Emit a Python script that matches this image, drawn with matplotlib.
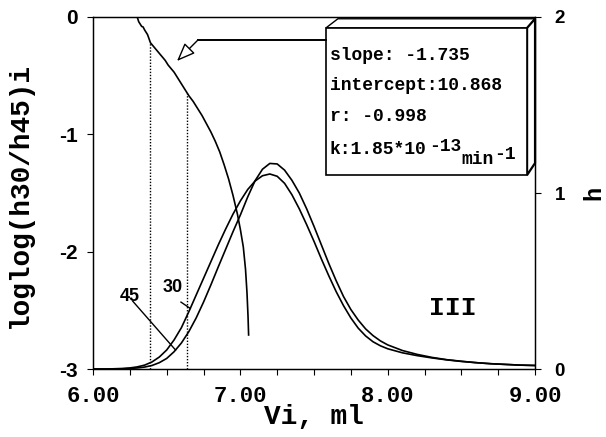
import numpy as np
import matplotlib
matplotlib.use("Agg")
import matplotlib.pyplot as plt
from matplotlib.patches import Rectangle, Polygon

plt.rcParams['axes.unicode_minus'] = False

# loglog(h30/h45)i against elution volume
lv = [6.300, 6.305, 6.31, 6.32, 6.33, 6.34, 6.35, 6.37, 6.39, 6.41, 6.43, 6.45,
      6.47, 6.49, 6.51, 6.53, 6.55, 6.57, 6.59, 6.61, 6.63, 6.65, 6.68, 6.71,
      6.74, 6.77, 6.80, 6.83, 6.86, 6.89, 6.92, 6.95, 6.98, 7.00, 7.02, 7.035,
      7.045, 7.052, 7.056]
ll = [0.00, -0.02, -0.04, -0.06, -0.08, -0.085, -0.11, -0.15, -0.22, -0.25,
      -0.28, -0.31, -0.34, -0.37, -0.41, -0.44, -0.47, -0.51, -0.55, -0.59,
      -0.63, -0.67, -0.72, -0.78, -0.84, -0.91, -0.98, -1.06, -1.15, -1.26,
      -1.38, -1.52, -1.68, -1.81, -1.96, -2.15, -2.35, -2.55, -2.71]

# chromatograms h(Vi) at 30 and 45
vi = [6.00, 6.10, 6.20, 6.25, 6.30, 6.35, 6.40, 6.45, 6.50, 6.55, 6.60, 6.65,
      6.70, 6.75, 6.80, 6.85, 6.90, 6.95, 7.00, 7.05, 7.10, 7.15, 7.20, 7.25,
      7.30, 7.35, 7.40, 7.45, 7.50, 7.55, 7.60, 7.65, 7.70, 7.75, 7.80, 7.85,
      7.90, 7.95, 8.00, 8.10, 8.20, 8.30, 8.40, 8.50, 8.60, 8.70, 8.80, 8.90,
      9.00]
h30 = [0.000, 0.000, 0.003, 0.006, 0.012, 0.022, 0.040, 0.068, 0.108, 0.165,
       0.235, 0.325, 0.420, 0.515, 0.610, 0.705, 0.795, 0.880, 0.955, 1.020,
       1.068, 1.098, 1.108, 1.095, 1.055, 0.990, 0.910, 0.820, 0.725, 0.625,
       0.530, 0.440, 0.360, 0.290, 0.232, 0.188, 0.155, 0.132, 0.115, 0.092,
       0.076, 0.063, 0.052, 0.043, 0.036, 0.030, 0.026, 0.022, 0.020]
h45 = [0.000, 0.000, 0.001, 0.003, 0.006, 0.011, 0.020, 0.036, 0.060, 0.098,
       0.148, 0.212, 0.290, 0.380, 0.478, 0.580, 0.680, 0.780, 0.875, 0.978,
       1.070, 1.135, 1.168, 1.165, 1.130, 1.072, 1.000, 0.910, 0.810, 0.705,
       0.600, 0.502, 0.412, 0.338, 0.278, 0.228, 0.190, 0.160, 0.137, 0.105,
       0.083, 0.066, 0.053, 0.044, 0.036, 0.030, 0.026, 0.022, 0.020]

# volumes marked by dotted lines
vmarks = [6.39, 6.64]

fit_lines = ["slope: -1.735", "intercept:10.868", "r: -0.998"]

mono = 'Liberation Mono'
sans = 'Liberation Sans'

fig = plt.figure(figsize=(6.06, 4.37), dpi=100)
ax = fig.add_axes([0.1535, 0.1556, 0.7294, 0.8055])
ax2 = ax.twinx()

ax.plot(lv, ll, color='black', lw=1.2)
for v in vmarks:
    top = np.interp(v, lv, ll)
    ax.plot([v, v], [-3, top], color='black', lw=1.0, ls=(0, (1, 1.2)))

ax2.plot(vi, h30, color='black', lw=1.2)
ax2.plot(vi, h45, color='black', lw=1.2)

ax.set_xlim(6, 9)
ax.set_ylim(-3, 0)
ax2.set_ylim(0, 2)

ax.set_xticks([6, 7, 8, 9])
ax.set_xticks(np.arange(6, 9.01, 0.25), minor=True)
ax.set_xticklabels(['6.00', '7.00', '8.00', '9.00'],
                   fontfamily=mono, fontweight='bold', fontsize=16)
ax.set_yticks([0, -1, -2, -3])
ax.set_yticklabels(['0', '-1', '-2', '-3'], fontfamily=sans, fontweight='bold',
                   fontsize=15)
ax2.set_yticks([0, 1, 2])
ax2.set_yticklabels(['0', '1', '2'], fontfamily=sans, fontweight='bold',
                    fontsize=13.5)

ax.tick_params(axis='x', which='both', direction='out', length=4, width=0.8, pad=8)
ax.tick_params(axis='y', direction='out', length=4, width=0.8, pad=7)
ax2.tick_params(axis='y', direction='out', length=4, width=0.8, pad=10)

ax.set_xlabel('Vi, ml', fontfamily=mono, fontweight='bold', fontsize=20)
ax.xaxis.set_label_coords(0.5, -0.10)
ax.set_ylabel('loglog(h30/h45)i', fontfamily=mono, fontweight='bold', fontsize=20)
ax.yaxis.set_label_coords(-0.135, 0.494)
ax2.set_ylabel('h', fontfamily=mono, fontweight='bold', fontsize=17)
ax2.yaxis.set_label_coords(1.108, 0.5)

for a in (ax, ax2):
    for s in a.spines.values():
        s.set_linewidth(0.9)

# curve labels with leader lines
v30 = 6.66
ax2.text(6.54, 0.465, '30', fontfamily=sans, fontweight='bold', fontsize=13,
         ha='center', va='center')
ax2.plot([6.597, v30], [0.38, np.interp(v30, vi, h30)], color='black', lw=1.0)
v45 = 6.56
ax2.text(6.25, 0.41, '45', fontfamily=sans, fontweight='bold', fontsize=13,
         ha='center', va='center')
ax2.plot([6.27, v45], [0.385, np.interp(v45, vi, h45)], color='black', lw=1.0)

ax2.text(0.814, 0.173, 'III', transform=ax2.transAxes, fontfamily=mono,
         fontweight='bold', fontsize=19, ha='center', va='center')

# regression results box with a bit of depth
tr = ax2.transAxes
x0, y0, x1, y1 = 0.527, 0.551, 0.982, 0.969
dx, dy = 0.018, 0.026
ax2.add_patch(Polygon([(x0, y1), (x0 + 0.027, y1 + dy), (x1 + dx, y1 + dy), (x1, y1)],
                      closed=True, fc='white', ec='black', lw=1.0,
                      transform=tr, clip_on=False, zorder=5))
ax2.add_patch(Polygon([(x1, y1), (x1 + dx, y1 + dy), (x1 + dx, y0 + 0.034), (x1, y0)],
                      closed=True, fc='white', ec='black', lw=1.6,
                      transform=tr, clip_on=False, zorder=5))
ax2.add_patch(Rectangle((x0, y0), x1 - x0, y1 - y0, fc='white', ec='black', lw=1.2,
                        transform=tr, clip_on=False, zorder=5))

for i, line in enumerate(fit_lines):
    ax2.text(0.536, 0.892 - i * 0.088, line, transform=tr, fontfamily=mono,
             fontweight='bold', fontsize=13, ha='left', va='center', zorder=6)

kt = ax2.text(0.536, 0.612, 'k:1.85*10', transform=tr, fontfamily=mono,
              fontweight='bold', fontsize=13, ha='left', va='baseline', zorder=6)
e1 = ax2.annotate('-13', xy=(1, 0), xycoords=kt, xytext=(2, 5),
                  textcoords='offset points', fontfamily=mono, fontweight='bold',
                  fontsize=13, va='baseline', zorder=6)
mn = ax2.annotate('min', xy=(1, 0), xycoords=e1, xytext=(0, -7),
                  textcoords='offset points', fontfamily=mono, fontweight='bold',
                  fontsize=13, va='baseline', zorder=6)
ax2.annotate('-1', xy=(1, 0), xycoords=mn, xytext=(0, 7),
             textcoords='offset points', fontfamily=mono, fontweight='bold',
             fontsize=13, va='baseline', zorder=6)

# pointer from the box to the loglog curve
ax2.plot([0.2376, x0], [0.935, 0.935], color='black', lw=1.4, transform=tr,
         clip_on=False, zorder=5)
ax2.annotate('', xy=(0.190, 0.875), xycoords=tr, xytext=(0.2376, 0.935), textcoords=tr,
             arrowprops=dict(arrowstyle='-|>,head_length=0.7,head_width=0.28',
                             fc='white', ec='black', lw=1.0, mutation_scale=16,
                             shrinkA=0, shrinkB=0))

fig.savefig('out.png', dpi=100)
